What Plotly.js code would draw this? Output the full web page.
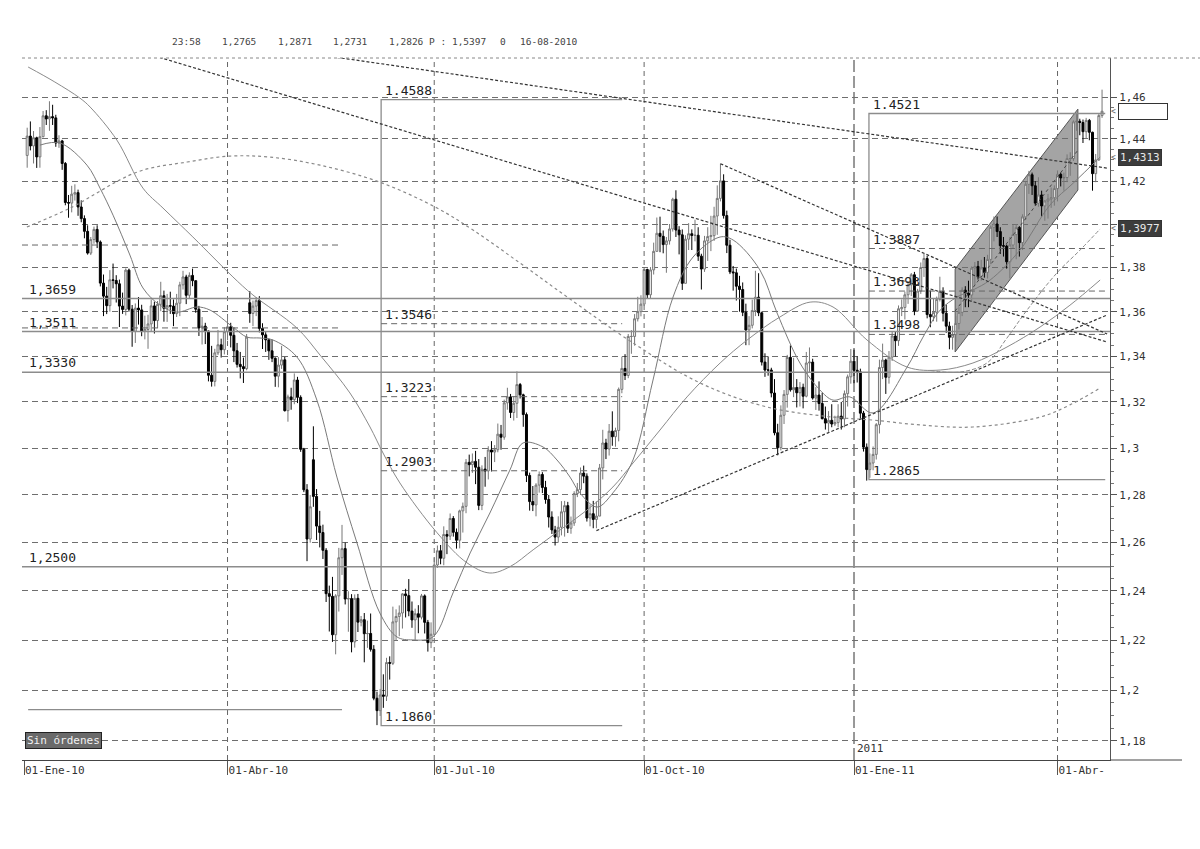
<!DOCTYPE html>
<html><head><meta charset="utf-8">
<script src="https://cdn.plot.ly/plotly-3.0.1.min.js"></script>
<style>html,body{margin:0;padding:0;background:#fff}</style>
</head><body>
<div id="chart" style="width:1200px;height:849px"></div>
<script>
// ---- Daily EUR/USD candles, one per weekday, first candle = 04-Ene-10 (weekday index 1) ----
const firstCandleIndex = 1;
const candleOpen = [
1.4321,1.4413,1.4366,1.4405,1.4314,1.4410,1.4510,1.4495,1.4506,1.4500,1.4380,1.4390,1.4283,1.4100,1.4097,1.4139,1.4146,1.4079,1.4025,1.3966,
1.3866,1.3928,1.3975,1.3917,1.3729,1.3670,1.3627,1.3744,1.3741,1.3726,1.3625,1.3610,1.3788,1.3611,1.3512,1.3616,1.3608,1.3513,1.3520,1.3545,
1.3626,1.3560,1.3633,1.3672,1.3615,1.3627,1.3625,1.3591,1.3638,1.3721,1.3757,1.3674,1.3764,1.3740,1.3611,1.3527,1.3535,1.3513,1.3317,1.3290,1.3416,1.3452,1.3430,
1.3510,1.3532,1.3494,1.3425,1.3365,1.3355,1.3346,1.3640,1.3592,1.3625,1.3650,1.3525,1.3496,1.3474,1.3425,1.3392,1.3313,1.3362,1.3385,1.3162,1.3222,1.3210,
1.3296,1.3220,1.2995,1.2822,1.2615,1.2950,1.2794,1.2669,1.2642,1.2568,1.2389,1.2378,1.2222,1.2380,1.2537,1.2575,1.2367,1.2369,1.2193,1.2370,1.2273,
1.2283,1.2226,1.2227,1.2163,1.1968,1.1919,1.1981,1.1976,1.2110,1.2107,1.2274,1.2296,1.2310,1.2388,1.2381,1.2318,1.2282,1.2307,1.2293,1.2380,1.2272,1.2190,
1.2224,1.2507,1.2566,1.2535,1.2634,1.2627,1.2701,1.2643,1.2610,1.2733,1.2752,1.2939,1.2929,1.2943,1.2918,1.2756,1.2910,1.2902,1.2992,1.2983,1.2993,1.3060,
1.3047,1.3196,1.3222,1.3154,1.3194,1.3276,1.3231,1.3145,1.2883,1.2772,1.2758,1.2842,1.2887,1.2832,1.2781,1.2707,1.2653,1.2623,1.2664,1.2729,1.2755,1.2660,
1.2682,1.2806,1.2823,1.2893,1.2880,1.2703,1.2721,1.2697,1.2711,1.2915,1.3022,1.2996,1.3073,1.3049,1.3076,1.3255,1.3347,1.3316,1.3489,1.3489,1.3568,1.3600,
1.3634,1.3791,1.3676,1.3789,1.3874,1.3957,1.3943,1.3905,1.3922,1.3977,1.4115,1.3972,1.3950,1.3728,1.3930,1.3955,1.3947,1.3948,1.3852,1.3793,1.3922,
1.3942,1.3946,1.4037,1.4119,1.4201,1.4039,1.3902,1.3780,1.3776,1.3715,1.3700,1.3597,1.3518,1.3539,1.3605,1.3665,1.3595,1.3375,1.3340,1.3340,1.3239,1.3066,
1.3002,1.3142,1.3233,1.3396,1.3253,1.3263,1.3240,1.3264,1.3225,1.3371,1.3375,1.3217,1.3230,1.3193,1.3127,1.3108,1.3120,1.3104,1.3110,1.3138,1.3126,1.3236,1.3310,
1.3379,1.3339,1.3332,1.3151,1.3004,1.2908,1.2936,1.2973,1.3101,1.3351,1.3384,1.3308,1.3397,1.3491,1.3470,1.3613,1.3619,1.3676,1.3721,1.3767,1.3603,
1.3693,1.3800,1.3841,1.3587,1.3577,1.3597,1.3655,1.3691,1.3593,1.3535,1.3485,1.3497,1.3547,1.3597,1.3697,1.3683,1.3675,1.3797,1.3805,1.3759,
1.3798,1.3778,1.3837,1.3985,1.4000,1.3965,1.3900,1.3898,1.3826,1.3903,1.3951,1.3984,1.3914,1.4033,1.4185,1.4230,1.4178,1.4097,1.4135,1.4084,1.4107,1.4116,1.4122,
1.4165,1.4232,1.4215,1.4217,1.4306,1.4306,1.4481,1.4484,1.4478,1.4434,1.4488,1.4431,1.4235,1.4300,1.4511];
const candleHigh = [
1.4453,1.4483,1.4437,1.4410,1.4456,1.4533,1.4537,1.4580,1.4563,1.4515,1.4417,1.4395,1.4290,1.4135,1.4178,1.4185,1.4160,1.4110,1.4040,1.3994,
1.3940,1.3988,1.3994,1.3924,1.3768,1.3712,1.3788,1.3818,1.3765,1.3745,1.3686,1.3796,1.3795,1.3630,1.3637,1.3666,1.3631,1.3582,1.3586,1.3655,
1.3645,1.3648,1.3735,1.3695,1.3680,1.3690,1.3655,1.3680,1.3735,1.3785,1.3767,1.3778,1.3795,1.3741,1.3626,1.3576,1.3550,1.3515,1.3447,1.3434,1.3518,1.3479,1.3530,
1.3587,1.3550,1.3530,1.3460,1.3420,1.3395,1.3500,1.3693,1.3650,1.3666,1.3670,1.3548,1.3508,1.3480,1.3475,1.3396,1.3397,1.3447,1.3398,1.3232,1.3262,1.3325,
1.3310,1.3229,1.3001,1.2846,1.2800,1.3094,1.2825,1.2733,1.2675,1.2577,1.2422,1.2458,1.2387,1.2578,1.2674,1.2600,1.2399,1.2387,1.2386,1.2388,1.2298,
1.2310,1.2279,1.2308,1.2180,1.1994,1.2005,1.2063,1.2129,1.2135,1.2336,1.2325,1.2341,1.2391,1.2409,1.2449,1.2357,1.2328,1.2342,1.2388,1.2386,1.2282,1.2272,
1.2537,1.2588,1.2590,1.2668,1.2652,1.2722,1.2711,1.2659,1.2738,1.2768,1.2953,1.2972,1.2977,1.2988,1.2953,1.2926,1.2962,1.3008,1.3030,1.3013,1.3106,1.3100,
1.3210,1.3262,1.3235,1.3225,1.3334,1.3283,1.3236,1.3154,1.2895,1.2838,1.2850,1.2900,1.2897,1.2860,1.2800,1.2731,1.2670,1.2710,1.2774,1.2775,1.2771,1.2709,
1.2816,1.2851,1.2917,1.2925,1.2892,1.2760,1.2775,1.2773,1.2932,1.3079,1.3040,1.3104,1.3159,1.3088,1.3263,1.3399,1.3410,1.3500,1.3517,1.3589,1.3667,1.3674,
1.3799,1.3795,1.3802,1.3914,1.4030,1.4034,1.3970,1.3940,1.4000,1.4122,1.4157,1.3990,1.3975,1.3948,1.4004,1.3975,1.4020,1.3985,1.3863,1.3945,1.3985,
1.4038,1.4080,1.4180,1.4282,1.4232,1.4062,1.3927,1.3807,1.3795,1.3762,1.3732,1.3636,1.3580,1.3654,1.3785,1.3774,1.3600,1.3414,1.3400,1.3350,1.3300,1.3105,
1.3185,1.3252,1.3407,1.3449,1.3394,1.3300,1.3287,1.3280,1.3420,1.3440,1.3390,1.3265,1.3290,1.3240,1.3180,1.3160,1.3190,1.3140,1.3190,1.3200,1.3250,1.3320,1.3433,
1.3430,1.3400,1.3346,1.3161,1.3020,1.2977,1.3007,1.3108,1.3386,1.3457,1.3390,1.3424,1.3513,1.3512,1.3628,1.3655,1.3690,1.3736,1.3775,1.3780,1.3703,
1.3823,1.3862,1.3853,1.3695,1.3660,1.3668,1.3758,1.3710,1.3632,1.3555,1.3537,1.3580,1.3620,1.3710,1.3715,1.3740,1.3805,1.3825,1.3830,1.3835,
1.3848,1.3858,1.3993,1.4035,1.4035,1.3985,1.3940,1.3905,1.3940,1.3995,1.4000,1.3990,1.4045,1.4197,1.4248,1.4240,1.4200,1.4218,1.4155,1.4110,1.4140,1.4170,1.4180,
1.4250,1.4240,1.4240,1.4326,1.4336,1.4488,1.4520,1.4496,1.4492,1.4500,1.4495,1.4434,1.4328,1.4520,1.4636];
const candleLow = [
1.4263,1.4345,1.4283,1.4262,1.4263,1.4407,1.4466,1.4438,1.4466,1.4362,1.4357,1.4253,1.4087,1.4029,1.4054,1.4109,1.4038,1.4008,1.3934,1.3859,
1.3857,1.3909,1.3889,1.3714,1.3580,1.3589,1.3600,1.3705,1.3641,1.3531,1.3590,1.3583,1.3600,1.3443,1.3460,1.3542,1.3490,1.3476,1.3434,1.3510,
1.3502,1.3527,1.3602,1.3555,1.3554,1.3590,1.3535,1.3576,1.3580,1.3700,1.3634,1.3658,1.3715,1.3595,1.3491,1.3453,1.3455,1.3290,1.3267,1.3268,1.3406,1.3395,1.3409,
1.3472,1.3440,1.3375,1.3351,1.3303,1.3283,1.3339,1.3550,1.3535,1.3580,1.3507,1.3433,1.3420,1.3385,1.3375,1.3266,1.3264,1.3345,1.3158,1.3114,1.3166,1.3190,
1.3195,1.2984,1.2812,1.2523,1.2600,1.2750,1.2611,1.2580,1.2532,1.2355,1.2235,1.2193,1.2143,1.2316,1.2466,1.2345,1.2234,1.2151,1.2170,1.2233,1.2256,
1.2111,1.2169,1.2154,1.1960,1.1862,1.1898,1.1930,1.1957,1.2042,1.2100,1.2197,1.2216,1.2247,1.2292,1.2297,1.2250,1.2201,1.2228,1.2284,1.2227,1.2154,1.2168,
1.2213,1.2495,1.2510,1.2506,1.2552,1.2611,1.2625,1.2575,1.2576,1.2642,1.2723,1.2879,1.2894,1.2846,1.2736,1.2736,1.2835,1.2866,1.2900,1.2940,1.2982,1.2993,
1.3036,1.3166,1.3130,1.3119,1.3130,1.3215,1.3092,1.2855,1.2734,1.2732,1.2710,1.2810,1.2808,1.2763,1.2663,1.2636,1.2588,1.2600,1.2630,1.2625,1.2640,1.2637,
1.2670,1.2791,1.2800,1.2850,1.2688,1.2668,1.2660,1.2660,1.2711,1.2866,1.2953,1.2968,1.3010,1.3006,1.3029,1.3238,1.3296,1.3304,1.3412,1.3448,1.3556,1.3579,
1.3625,1.3660,1.3660,1.3768,1.3873,1.3870,1.3865,1.3776,1.3905,1.3965,1.3940,1.3860,1.3698,1.3728,1.3880,1.3880,1.3920,1.3830,1.3700,1.3780,1.3830,
1.3875,1.3922,1.3950,1.4105,1.4025,1.3866,1.3770,1.3695,1.3650,1.3600,1.3580,1.3450,1.3450,1.3525,1.3580,1.3580,1.3360,1.3310,1.3315,1.3220,1.3055,1.2969,
1.2990,1.3104,1.3175,1.3245,1.3221,1.3176,1.3180,1.3172,1.3220,1.3330,1.3210,1.3165,1.3162,1.3124,1.3080,1.3070,1.3090,1.3095,1.3090,1.3080,1.3090,1.3180,1.3280,
1.3282,1.3285,1.3128,1.2985,1.2861,1.2873,1.2905,1.2951,1.3063,1.3300,1.3235,1.3280,1.3380,1.3400,1.3447,1.3580,1.3565,1.3635,1.3670,1.3584,1.3600,
1.3680,1.3757,1.3570,1.3530,1.3557,1.3555,1.3646,1.3556,1.3505,1.3432,1.3430,1.3465,1.3520,1.3580,1.3620,1.3620,1.3650,1.3720,1.3745,1.3740,
1.3754,1.3750,1.3815,1.3920,1.3940,1.3862,1.3850,1.3795,1.3750,1.3885,1.3838,1.3850,1.3880,1.4020,1.4140,1.4135,1.4085,1.4080,1.4035,1.4015,1.4025,1.4075,1.4085,
1.4105,1.4175,1.4155,1.4195,1.4225,1.4295,1.4438,1.4417,1.4380,1.4400,1.4393,1.4155,1.4195,1.4295,1.4500];
const candleClose = [
1.4413,1.4366,1.4405,1.4314,1.4410,1.4510,1.4495,1.4506,1.4500,1.4380,1.4390,1.4283,1.4100,1.4097,1.4139,1.4146,1.4079,1.4025,1.3966,1.3866,
1.3928,1.3975,1.3917,1.3729,1.3670,1.3627,1.3744,1.3741,1.3726,1.3625,1.3610,1.3788,1.3611,1.3512,1.3616,1.3608,1.3513,1.3520,1.3545,1.3626,
1.3560,1.3633,1.3672,1.3615,1.3627,1.3625,1.3591,1.3638,1.3721,1.3757,1.3674,1.3764,1.3740,1.3611,1.3527,1.3535,1.3513,1.3317,1.3290,1.3416,1.3452,1.3430,1.3510,
1.3532,1.3494,1.3425,1.3365,1.3355,1.3346,1.3486,1.3592,1.3625,1.3650,1.3525,1.3496,1.3474,1.3425,1.3392,1.3313,1.3362,1.3385,1.3162,1.3222,1.3210,1.3296,
1.3220,1.2995,1.2822,1.2615,1.2750,1.2794,1.2669,1.2642,1.2568,1.2389,1.2378,1.2222,1.2380,1.2537,1.2575,1.2367,1.2369,1.2193,1.2370,1.2273,1.2283,
1.2226,1.2227,1.2163,1.1968,1.1919,1.1981,1.1976,1.2110,1.2107,1.2274,1.2296,1.2310,1.2388,1.2381,1.2318,1.2282,1.2307,1.2293,1.2380,1.2272,1.2190,1.2224,
1.2507,1.2566,1.2535,1.2634,1.2627,1.2701,1.2643,1.2610,1.2733,1.2752,1.2939,1.2929,1.2943,1.2918,1.2756,1.2910,1.2902,1.2992,1.2983,1.2993,1.3060,1.3047,
1.3196,1.3222,1.3154,1.3194,1.3276,1.3231,1.3145,1.2883,1.2772,1.2758,1.2842,1.2887,1.2832,1.2781,1.2707,1.2653,1.2623,1.2664,1.2729,1.2755,1.2660,1.2682,
1.2806,1.2823,1.2893,1.2880,1.2703,1.2721,1.2697,1.2711,1.2915,1.3022,1.2996,1.3073,1.3049,1.3076,1.3255,1.3347,1.3316,1.3489,1.3489,1.3568,1.3600,1.3634,
1.3791,1.3676,1.3789,1.3874,1.3957,1.3943,1.3905,1.3922,1.3977,1.4115,1.3972,1.3950,1.3728,1.3930,1.3955,1.3947,1.3948,1.3852,1.3793,1.3922,1.3942,
1.3946,1.4037,1.4119,1.4201,1.4039,1.3902,1.3780,1.3776,1.3715,1.3700,1.3597,1.3518,1.3539,1.3605,1.3665,1.3595,1.3375,1.3340,1.3340,1.3239,1.3066,1.3002,
1.3142,1.3233,1.3396,1.3253,1.3263,1.3240,1.3264,1.3225,1.3371,1.3375,1.3217,1.3230,1.3193,1.3127,1.3108,1.3120,1.3104,1.3110,1.3138,1.3126,1.3236,1.3310,1.3379,
1.3339,1.3332,1.3151,1.3004,1.2908,1.2936,1.2973,1.3101,1.3351,1.3384,1.3308,1.3397,1.3491,1.3470,1.3613,1.3619,1.3676,1.3721,1.3767,1.3603,1.3693,
1.3800,1.3841,1.3587,1.3577,1.3597,1.3655,1.3691,1.3593,1.3535,1.3485,1.3497,1.3547,1.3597,1.3697,1.3683,1.3675,1.3797,1.3805,1.3759,1.3798,
1.3778,1.3837,1.3985,1.4000,1.3965,1.3900,1.3898,1.3826,1.3903,1.3951,1.3984,1.3914,1.4033,1.4185,1.4230,1.4178,1.4097,1.4135,1.4084,1.4107,1.4116,1.4122,1.4165,
1.4232,1.4215,1.4217,1.4306,1.4306,1.4481,1.4484,1.4478,1.4434,1.4488,1.4431,1.4235,1.4300,1.4511,1.4532];

// ---- axis ticks ----
const dateTickIndex = [0, 64, 129, 195, 261, 325];
const dateTickLabels = ['01-Ene-10','01-Abr-10','01-Jul-10','01-Oct-10','01-Ene-11','01-Abr-'];
const priceTicks = [1.18,1.20,1.22,1.24,1.26,1.28,1.30,1.32,1.34,1.36,1.38,1.40,1.42,1.44,1.46];
const priceTickLabels = ['1,18','1,2','1,22','1,24','1,26','1,28','1,3','1,32','1,34','1,36','1,38','1,4','1,42','1,44','1,46'];

// ---- moving averages ----
const maFastIdx = [5.0,11.3,19.8,23.9,28.0,33.3,37.4,42.8,48.1,54.4,58.5,65.7,70.1,74.2,78.3,85.8,92.1,98.4,104.7,111.9,117.3,122.3,128.6,134.9,140.3,146.5,152.8,156.9,163.2,167.6,171.7,174.8,180.2,185.2,191.5,197.8,204.1,210.4,218.9,223.0,231.4,236.8,244.0,250.3,254.4,259.7,267.0,277.7,282.7,288.1,293.4,298.4,303.8,313.2,322.6,329.9,338.4];
const maFastVal = [1.4370,1.4380,1.4275,1.4167,1.4041,1.3857,1.3707,1.3629,1.3598,1.3621,1.3607,1.3531,1.3486,1.3482,1.3473,1.3398,1.3208,1.2876,1.2599,1.2310,1.2213,1.2201,1.2213,1.2392,1.2557,1.2724,1.2906,1.3022,1.3005,1.2949,1.2876,1.2809,1.2749,1.2809,1.2949,1.3296,1.3666,1.3848,1.3940,1.3926,1.3789,1.3594,1.3371,1.3252,1.3208,1.3222,1.3152,1.3353,1.3486,1.3607,1.3666,1.3698,1.3743,1.3880,1.4088,1.4190,1.4313];
const maMidIdx = [1.3,9.7,17.6,20.8,29.2,37.4,43.7,53.1,59.4,65.7,72.0,85.8,93.1,102.5,108.8,112.9,118.2,129.9,139.3,146.5,152.8,160.1,168.6,177.0,185.2,191.5,200.0,208.5,218.9,227.4,237.7,247.2,254.4,265.1,277.7,288.1,298.4,309.1,319.5,328.9,338.4];
const maMidVal = [1.4746,1.4673,1.4595,1.4552,1.4394,1.4167,1.4074,1.3940,1.3848,1.3757,1.3675,1.3527,1.3406,1.3239,1.3091,1.2979,1.2851,1.2641,1.2516,1.2474,1.2500,1.2570,1.2653,1.2736,1.2834,1.2936,1.3078,1.3222,1.3371,1.3473,1.3576,1.3643,1.3621,1.3473,1.3353,1.3340,1.3371,1.3442,1.3531,1.3629,1.3743];
const maRiseIdx = [285.0,294.3,302.8,309.1,315.4,324.8,332.1,338.4];
const maRiseVal = [1.3338,1.3331,1.3371,1.3482,1.3607,1.3775,1.3880,1.3977];
const maSlowIdx = [0.9,14.5,35.5,51.3,64.8,77.4,93.1,111.9,129.9,141.2,156.0,170.8,191.5,212.6,233.6,254.4,267.0,281.8,298.4,319.5,328.9,338.4];
const maSlowVal = [1.3986,1.4074,1.4242,1.4290,1.4318,1.4313,1.4275,1.4195,1.4074,1.3972,1.3820,1.3666,1.3460,1.3283,1.3178,1.3134,1.3121,1.3100,1.3091,1.3134,1.3187,1.3261];

// ---- drawn objects: horizontal levels, retracements, trend lines, channel ----
const levelValues = [1.3659, 1.3511, 1.3330, 1.2500];
const shortLevel = {from: 1.3, to: 100, value: 1.1923};
const shortDashedLevels = [1.3903, 1.3527];
const fibA = {left: 112.3, right: 188.1, high: 1.4588, low: 1.1860, levels: [1.3546, 1.3223, 1.2903]};
const fibB = {left: 265.7, right: 340.0, high: 1.4521, low: 1.2865, levels: [1.3887, 1.3693, 1.3498]};
const trendLines = [
  {x: [38.1, 340.6], y: [1.4814, 1.3464]},
  {x: [89.0, 340.6], y: [1.4814, 1.4261]},
  {x: [219.0, 340.6], y: [1.4282, 1.3500]},
  {x: [180.0, 340.6], y: [1.2650, 1.3585]}
];
const channelIdx = [292.8, 331.4, 331.4, 292.8];
const channelVal = [1.3793, 1.4542, 1.4158, 1.3420];
const channelMidIdx = [292.8, 331.4];
const channelMidVal = [1.3603, 1.4346];
const axisMarks = [{value: 1.4313, dark: true}, {value: 1.3977, dark: true}, {value: 1.4532, dark: false}];

// ---------------------------------------------------------------
const MONO = '"DejaVu Sans Mono", "Liberation Mono", monospace';
const X0 = -0.63, X1 = 341.5;
const traces = [];
const lineTrace = (x, y, color, width, dash, shape) => ({type:'scatter', mode:'lines', x, y, hoverinfo:'skip',
  line:{color, width, dash: dash || 'solid', shape: shape || 'linear'}});

// horizontal levels
levelValues.forEach(v => traces.push(lineTrace([X0, X1], [v, v], '#8c8c8c', 1.6)));
traces.push(lineTrace([shortLevel.from, shortLevel.to], [shortLevel.value, shortLevel.value], '#8c8c8c', 1.4));
shortDashedLevels.forEach(v => traces.push(lineTrace([X0, 99.4], [v, v], '#666', 1, '6px,4px')));

// retracement boxes
[fibA, fibB].forEach(f => {
  traces.push(lineTrace([f.right, f.left, f.left, f.right], [f.high, f.high, f.low, f.low], '#8c8c8c', 1.3));
  f.levels.forEach(v => traces.push(lineTrace([f.left, f.right], [v, v], '#666', 1, '6px,4px')));
});

// channel middle line
traces.push(lineTrace(channelMidIdx, channelMidVal, '#444', 1, 'dot'));

// moving averages
traces.push(lineTrace(maSlowIdx, maSlowVal, '#8a8a8a', 1.2, 'dot', 'spline'));
traces.push(lineTrace(maMidIdx, maMidVal, '#8a8a8a', 1, 'solid', 'spline'));
traces.push(lineTrace(maRiseIdx, maRiseVal, '#8a8a8a', 1, '4px,2px', 'spline'));
traces.push(lineTrace(maFastIdx, maFastVal, '#7a7a7a', 1, 'solid', 'spline'));

// trend lines
trendLines.forEach(t => traces.push(lineTrace(t.x, t.y, '#333', 1.2, '3px,2px')));

// candles
const candleX = candleClose.map((_, i) => firstCandleIndex + i);
traces.push({type:'candlestick', x: candleX, open: candleOpen, high: candleHigh, low: candleLow, close: candleClose,
  increasing:{line:{color:'#777', width:1}, fillcolor:'#eeeeee'},
  decreasing:{line:{color:'#000', width:1}, fillcolor:'#000'},
  whiskerwidth:0, hoverinfo:'skip'});

// ---- annotations ----
const px2paperX = px => (px - 22) / 1088;
const px2paperY = py => (760 - py) / 702;
const ann = [];
const lab = (x, v, text) => ann.push({x, y: Math.log10(v), xref:'x', yref:'y', text, showarrow:false,
  xanchor:'left', yanchor:'bottom', yshift:0, font:{family:MONO, size:13, color:'#222'}});
levelValues.forEach(v => lab(1.0, v, v.toFixed(4).replace('.', ',')));
[fibA, fibB].forEach(f => {
  [f.high, ...f.levels, f.low].forEach(v => lab(f.left + 0.6, v, v.toFixed(4)));
});
// header
const header = [[170,'23:58'],[220,'1,2765'],[276,'1,2871'],[331,'1,2731'],[387,'1,2826 P : 1,5397'],[498,'0'],[518,'16-08-2010']];
header.forEach(h => ann.push({x: px2paperX(h[0]), y: px2paperY(42), xref:'paper', yref:'paper', text:h[1], showarrow:false,
  xanchor:'left', yanchor:'middle', font:{family:MONO, size:9.5, color:'#444'}}));
// sin ordenes
ann.push({x: px2paperX(25), y: Math.log10(1.18), xref:'paper', yref:'y', text:'Sin órdenes', showarrow:false,
  xanchor:'left', yanchor:'middle', bgcolor:'#6a6a6a', bordercolor:'#222', borderwidth:1, borderpad:1,
  font:{family:MONO, size:11, color:'#f2f2f2'}});
// year marker
ann.push({x: 261.3, y: px2paperY(748), xref:'x', yref:'paper', text:'2011', showarrow:false,
  xanchor:'left', yanchor:'middle', font:{family:MONO, size:11, color:'#333'}});
// right axis value marks
axisMarks.forEach(m => {
  ann.push({x: px2paperX(1118), y: Math.log10(m.value), xref:'paper', yref:'y',
    text: m.dark ? m.value.toFixed(4).replace('.', ',') : '\u00a0'.repeat(7), showarrow:false, xanchor:'left', yanchor:'middle',
    bgcolor: m.dark ? '#3c3c3c' : '#ffffff', bordercolor:'#333', borderwidth:1, borderpad:1,
    font:{family:MONO, size:11, color: m.dark ? '#e8e8e8' : '#000'}});
  ann.push({x: px2paperX(1113), y: Math.log10(m.value), xref:'paper', yref:'y', text:'<', showarrow:false,
    xanchor:'center', yanchor:'middle', font:{family:MONO, size:8, color:'#666'}});
});

// ---- shapes: channel (beneath the candles), vertical grid, frame lines ----
const shapes = [];
shapes.push({type:'path', xref:'x', yref:'y', layer:'below',
  path: 'M' + channelIdx.map((x, i) => x + ',' + channelVal[i]).join(' L') + ' Z',
  fillcolor:'#a4a4a4', line:{color:'#555', width:1}});
dateTickIndex.slice(1).forEach((v, i) => {
  const isYear = dateTickLabels[i + 1] === '01-Ene-11';
  shapes.push({type:'line', xref:'x', yref:'paper', x0:v, x1:v, y0:0, y1:1, layer:'below',
    line:{color: isYear ? '#333' : '#666', width:1, dash: isYear ? '12px,4px' : '5px,4px'}});
});
shapes.push({type:'line', xref:'paper', yref:'paper', x0:0, x1:px2paperX(1200), y0:1, y1:1, line:{color:'#888', width:1, dash:'dot'}});
shapes.push({type:'line', xref:'paper', yref:'paper', x0:1, x1:px2paperX(1182), y0:0, y1:0, line:{color:'#444', width:1}});

// minor ticks every 0.005
const minorTicks = [];
for (let k = 0; k < priceTicks.length - 1; k++) {
  for (let j = 1; j < 4; j++) minorTicks.push(+(priceTicks[k] + j * 0.005).toFixed(3));
}

const layout = {
  width:1200, height:849,
  margin:{l:22, r:90, t:58, b:89},
  paper_bgcolor:'#fff', plot_bgcolor:'#fff',
  showlegend:false, boxgap:0.12,
  font:{family:MONO, size:11, color:'#333'},
  xaxis:{type:'linear', range:[X0, X1], tickvals:dateTickIndex, ticktext:dateTickLabels,
    showgrid:false, zeroline:false, showline:true, linecolor:'#444', linewidth:1,
    ticks:'outside', ticklen:14, tickcolor:'#555', ticklabelposition:'outside right',
    tickfont:{family:MONO, size:11, color:'#333'}, rangeslider:{visible:false}, fixedrange:true},
  yaxis:{type:'log', side:'right', range:[Math.log10(1.1726), Math.log10(1.4790)],
    tickvals:priceTicks, ticktext:priceTickLabels, showgrid:true, gridcolor:'#6e6e6e', gridwidth:1, griddash:'6px,4px',
    zeroline:false, showline:true, linecolor:'#555', linewidth:1, ticks:'outside', ticklen:6, tickcolor:'#555',
    tickfont:{family:MONO, size:11, color:'#333'},
    minor:{tickvals:minorTicks, ticks:'outside', ticklen:3, tickcolor:'#777', showgrid:false}, fixedrange:true},
  annotations: ann,
  shapes: shapes
};

Plotly.newPlot('chart', traces, layout, {displayModeBar:false, staticPlot:true});
</script>
</body></html>
